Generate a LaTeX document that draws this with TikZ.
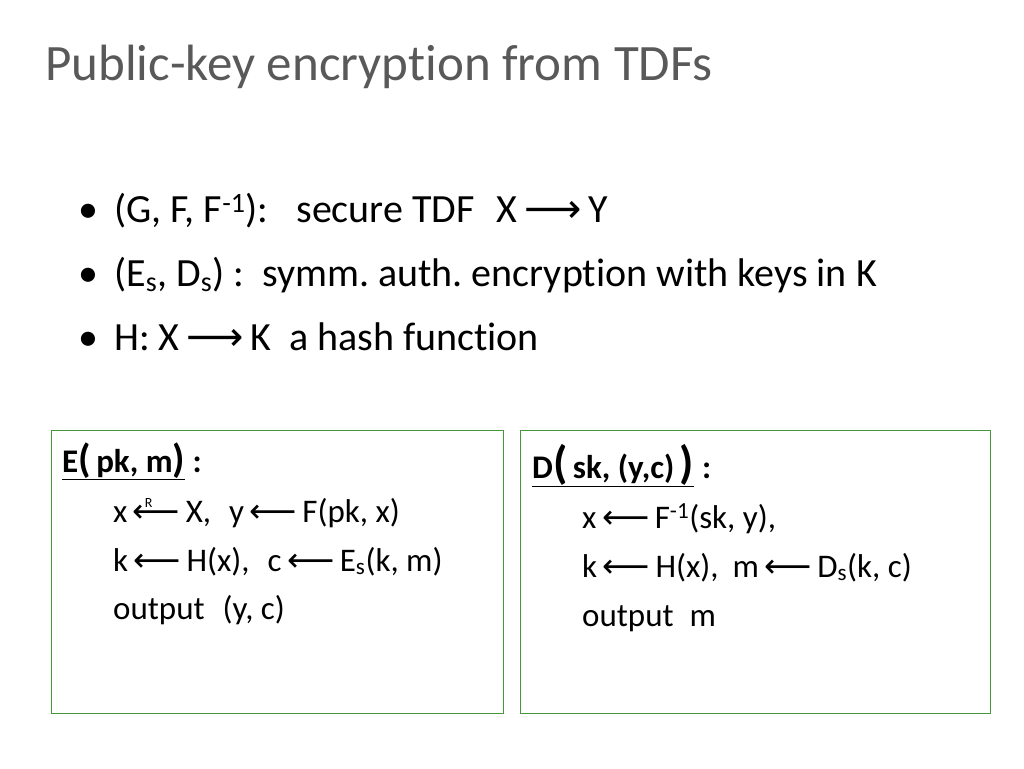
\documentclass[tikz,border=0pt]{standalone}
\usepackage{fontspec}
\setmainfont[Ligatures=NoCommon]{Carlito}
\newfontfamily\arr{DejaVu Sans}
\newcommand{\la}{\,{\arr ⟵}\,}
\newcommand{\ra}{\,{\arr ⟶}\,}
\definecolor{titlegray}{RGB}{89,89,89}
\definecolor{boxgreen}{RGB}{70,150,60}
\frenchspacing
\begin{document}
\begin{tikzpicture}[x=1pt,y=-1pt,
  title/.style={anchor=base west,inner sep=0,font=\fontsize{51}{60}\selectfont,text=titlegray},
  bul/.style={anchor=base west,inner sep=0,font=\fontsize{40}{46}\selectfont},
  btxt/.style={anchor=base west,inner sep=0,font=\fontsize{33}{38}\selectfont},
  frame/.style={draw=boxgreen,line width=0.8pt}]
\useasboundingbox (0,0) rectangle (1024,768);
\node[title] (t) at (45,80) {Public-key encryption from TDFs};
\node[bul] (b1) at (78,222) {•\hspace{16pt}(G, F, F\textsuperscript{-1}):\hspace{28pt}secure TDF\hspace{22pt}X\ra Y};
\node[bul] (b2) at (78,286) {•\hspace{16pt}(E\textsubscript{s}, D\textsubscript{s}) :\hspace{18pt}symm. auth. encryption with keys in K};
\node[bul] (b3) at (78,350) {•\hspace{16pt}H: X\ra K\hspace{18pt}a hash function};
\node[frame,minimum width=452pt,minimum height=283pt,anchor=north west,inner sep=0] (L) at (51,430) {};
\node[frame,minimum width=470pt,minimum height=283pt,anchor=north west,inner sep=0] (R) at (520,430) {};
\node[btxt] (e0) at (62,472) {\bfseries\underline{E{\fontsize{40}{40}\selectfont(}\,pk, m{\fontsize{40}{40}\selectfont)}} :};
\node[btxt] (e1) at (113,522) {x\,\rlap{\hspace{12pt}\raisebox{15pt}{\fontsize{14}{14}\selectfont R}}{\arr ⟵}\,X,\hspace{18pt}y\la F(pk, x)};
\node[btxt] (e2) at (113,571) {k\la H(x),\hspace{18pt}c\la E\textsubscript{s}(k, m)};
\node[btxt] (e3) at (113,619) {output\hspace{18pt}(y, c)};
\node[btxt] (d0) at (532,478) {\bfseries\underline{D{\fontsize{46}{46}\selectfont(}\,sk, (y,c)\,{\fontsize{46}{46}\selectfont)}}\hspace{8pt}:};
\node[btxt] (d1) at (582,528) {x\la F\textsuperscript{-1}(sk, y),};
\node[btxt] (d2) at (582,577) {k\la H(x),\hspace{14pt}m\la D\textsubscript{s}(k, c)};
\node[btxt] (d3) at (582,626) {output\hspace{16pt}m};
\end{tikzpicture}
\end{document}
